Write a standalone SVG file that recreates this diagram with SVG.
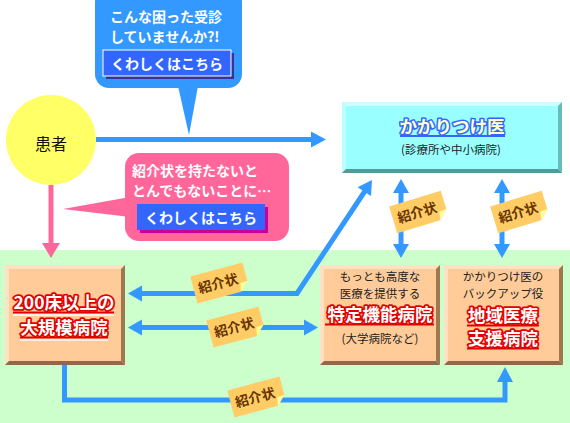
<svg xmlns="http://www.w3.org/2000/svg" width="570" height="423" viewBox="0 0 570 423">
<style>
text{font-family:"Noto Sans CJK JP","Noto Sans",sans-serif}
.w{fill:#fff;font-weight:bold;font-size:14px}
.btn{fill:#fff;font-size:14px;font-weight:bold}
.sm{fill:#222;font-size:11.5px}
.red{fill:#fff;stroke:#e00000;stroke-width:3.5px;paint-order:stroke;stroke-linejoin:round;font-weight:bold;font-size:17.5px}
.ln{stroke:#3399ff;stroke-width:5;fill:none}
.hd{fill:#3399ff}
.tagt{fill:#663300;font-weight:bold;font-size:13.5px}
.peach{fill:#ffcc99}
.hi{fill:#ffe2c4}
.dk{fill:#8c6a4a}
.dk2{fill:#a07850}
</style>
<defs>
<path id="tagp" d="M-27,-14 H27 V5 L18,14 H-27 Z" fill="#ffcc66"/>
<path id="fold" d="M27,5 L18,14 L19.5,5.5 Z" fill="#ffff99"/>
</defs>
<rect x="0" y="0" width="570" height="423" fill="#fff"/>
<rect x="0" y="250" width="570" height="173" fill="#ccffcc"/>

<g id="bubble-blue">
<rect x="95" y="-12" width="147" height="100" rx="14" fill="#3399ff"/>
<polygon points="178,86 198,86 189,135" fill="#3399ff"/>
<text class="w" x="110" y="22">こんな困った受診</text>
<text class="w" x="110" y="42">していませんか?!</text>
<rect x="106" y="53" width="128" height="26" fill="#333399"/>
<rect x="103" y="50" width="128" height="26" fill="#3366ff" stroke="#fff" stroke-width="1"/>
<text class="btn" x="167" y="69" text-anchor="middle">くわしくはこちら</text>
</g>

<g id="bubble-pink">
<rect x="125" y="153" width="164" height="88" rx="14" fill="#ff6699"/>
<polygon points="130,197 63,209 130,217" fill="#ff6699"/>
<text class="w" x="132" y="176">紹介状を持たないと</text>
<text class="w" x="132" y="196">とんでもないことに…</text>
<rect x="140" y="207" width="128" height="26" fill="#cc0099"/>
<rect x="137" y="204" width="128" height="26" fill="#3366ff"/>
<text class="btn" x="201" y="223" text-anchor="middle">くわしくはこちら</text>
</g>

<g id="patient">
<circle cx="51" cy="140" r="45" fill="#ffff66"/>
<text x="51" y="150" font-size="16" text-anchor="middle" fill="#111">患者</text>
</g>

<g id="connectors">
<line class="ln" x1="96" y1="139.5" x2="312" y2="139.5"/>
<polygon class="hd" points="311,131.5 326,139.5 311,147.5"/>
<line x1="51" y1="185" x2="51" y2="245" stroke="#ff6699" stroke-width="5"/>
<polygon points="42,243 60,243 51,258" fill="#ff6699"/>
<line class="ln" x1="401" y1="190" x2="401" y2="247"/>
<polygon class="hd" points="401,179 409,193 393,193"/>
<polygon class="hd" points="401,258 409,244 393,244"/>
<line class="ln" x1="502" y1="190" x2="502" y2="247"/>
<polygon class="hd" points="502,179 510,193 494,193"/>
<polygon class="hd" points="502,258 510,244 494,244"/>
<polyline class="ln" points="140,293.5 297,293.5 365,191"/>
<polygon class="hd" points="128,293.5 142,285.5 142,301.5"/>
<polygon class="hd" points="372,180 371,196 357.6,187.3"/>
<line class="ln" x1="140" y1="327.5" x2="306" y2="327.5"/>
<polygon class="hd" points="128,327.5 142,319.5 142,335.5"/>
<polygon class="hd" points="318,327.5 304,319.5 304,335.5"/>
<polyline class="ln" points="64.5,365 64.5,400 505,400 505,380"/>
<polygon class="hd" points="505,367 513,382 497,382"/>
</g>

<g id="tags">
<g transform="translate(220,283) rotate(-15)"><use href="#tagp"/><use href="#fold"/><text class="tagt" x="-2" y="5" text-anchor="middle">紹介状</text></g>
<g transform="translate(236,327) rotate(-15)"><use href="#tagp"/><use href="#fold"/><text class="tagt" x="-2" y="5" text-anchor="middle">紹介状</text></g>
<g transform="translate(257,397) rotate(-15)"><use href="#tagp"/><use href="#fold"/><text class="tagt" x="-2" y="5" text-anchor="middle">紹介状</text></g>
<g transform="translate(419,212) rotate(-17)"><use href="#tagp"/><use href="#fold"/><text class="tagt" x="-2" y="5" text-anchor="middle">紹介状</text></g>
<g transform="translate(520,212) rotate(-17)"><use href="#tagp"/><use href="#fold"/><text class="tagt" x="-2" y="5" text-anchor="middle">紹介状</text></g>
</g>

<g id="kakaritsuke">
<rect x="342" y="102" width="220" height="71" fill="#99ffff"/>
<polygon points="342,102 562,102 558,106 346,106" fill="#ccffff"/>
<polygon points="342,102 346,106 346,169 342,173" fill="#bbffff"/>
<polygon points="562,102 562,173 558,169 558,106" fill="#66bbbb"/>
<polygon points="342,173 346,169 558,169 562,173" fill="#559999"/>
<line x1="400" y1="136" x2="505" y2="136" stroke="#3366ff" stroke-width="2"/>
<text x="452" y="133" text-anchor="middle" font-size="17.5" font-weight="bold" fill="#ffffcc" stroke="#3366ff" stroke-width="3" paint-order="stroke" stroke-linejoin="round">かかりつけ医</text>
<text class="sm" x="451" y="154" text-anchor="middle">(診療所や中小病院)</text>
</g>

<g id="large-hospital">
<rect class="peach" x="5" y="265" width="120" height="100"/>
<polygon class="hi" points="5,265 125,265 121,269 9,269"/>
<polygon class="hi" points="5,265 9,269 9,361 5,365"/>
<polygon class="dk2" points="125,265 125,365 121,361 121,269"/>
<polygon class="dk" points="5,365 9,361 121,361 125,365"/>
<line x1="13" y1="312.5" x2="114" y2="312.5" stroke="#e00000" stroke-width="2"/>
<line x1="13" y1="315" x2="114" y2="315" stroke="#fff" stroke-width="1.5"/>
<line x1="20" y1="337.5" x2="108" y2="337.5" stroke="#e00000" stroke-width="2"/>
<line x1="20" y1="340" x2="108" y2="340" stroke="#fff" stroke-width="1.5"/>
<text class="red" x="64" y="309" text-anchor="middle">200床以上の</text>
<text class="red" x="64" y="334" text-anchor="middle">大規模病院</text>
</g>

<g id="tokutei">
<rect class="peach" x="320" y="265" width="120" height="100"/>
<polygon class="hi" points="320,265 440,265 436,269 324,269"/>
<polygon class="hi" points="320,265 324,269 324,361 320,365"/>
<polygon class="dk2" points="440,265 440,365 436,361 436,269"/>
<polygon class="dk" points="320,365 324,361 436,361 440,365"/>
<text class="sm" x="380" y="281" text-anchor="middle">もっとも高度な</text>
<text class="sm" x="380" y="297.5" text-anchor="middle">医療を提供する</text>
<line x1="325" y1="324.5" x2="434" y2="324.5" stroke="#e00000" stroke-width="2"/>
<text class="red" x="380" y="321" text-anchor="middle">特定機能病院</text>
<text class="sm" x="380" y="343" text-anchor="middle">(大学病院など)</text>
</g>

<g id="chiiki">
<rect class="peach" x="444" y="265" width="119" height="100"/>
<polygon class="hi" points="444,265 563,265 559,269 448,269"/>
<polygon class="hi" points="444,265 448,269 448,361 444,365"/>
<polygon class="dk2" points="563,265 563,365 559,361 559,269"/>
<polygon class="dk" points="444,365 448,361 559,361 563,365"/>
<text class="sm" x="503" y="281" text-anchor="middle">かかりつけ医の</text>
<text class="sm" x="503" y="297.5" text-anchor="middle">バックアップ役</text>
<line x1="467" y1="325.5" x2="539" y2="325.5" stroke="#e00000" stroke-width="2"/>
<line x1="467" y1="348.5" x2="539" y2="348.5" stroke="#e00000" stroke-width="2"/>
<text class="red" x="503" y="322" text-anchor="middle">地域医療</text>
<text class="red" x="503" y="345" text-anchor="middle">支援病院</text>
</g>
</svg>
